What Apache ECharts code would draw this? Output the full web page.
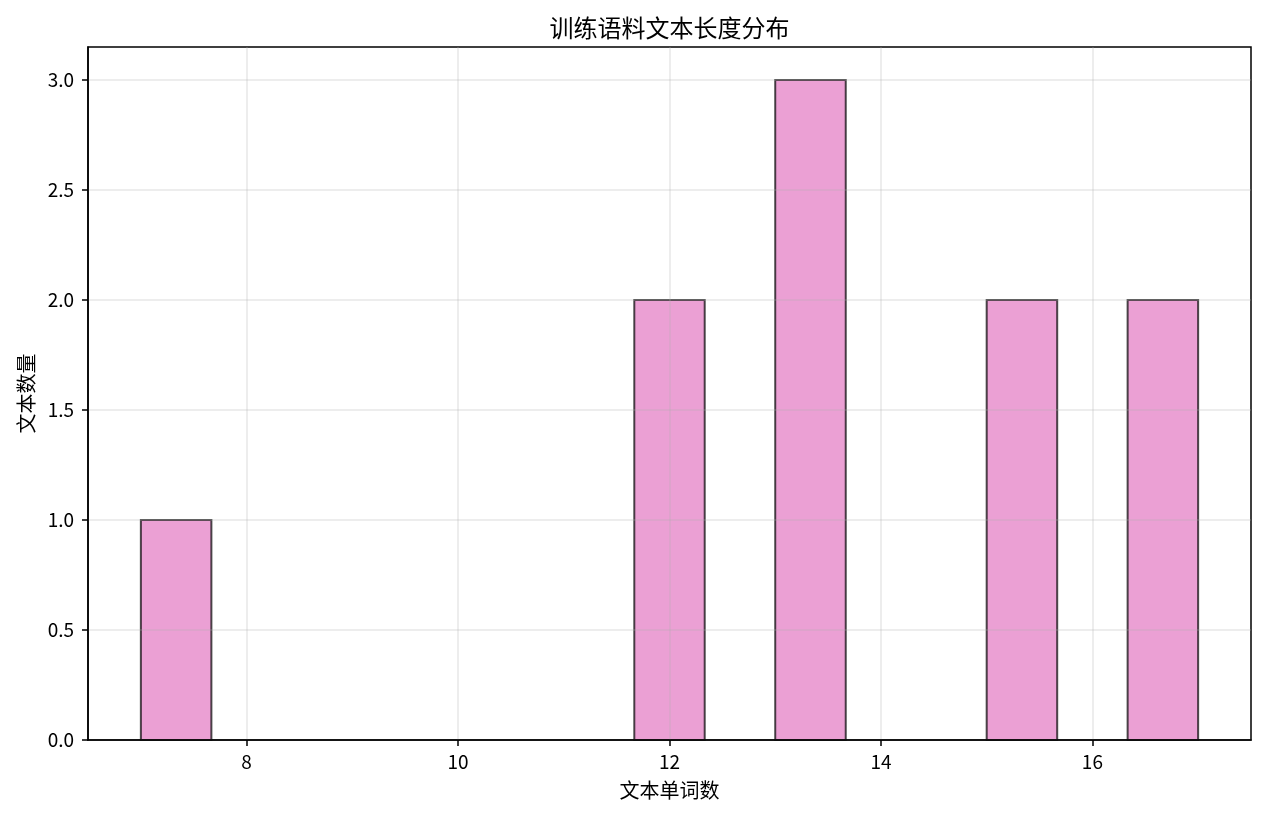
<!DOCTYPE html>
<html>
<head>
<meta charset="utf-8">
<script src="https://cdn.jsdelivr.net/npm/echarts@6/dist/echarts.min.js"></script>
<style>
html,body{margin:0;padding:0;background:#fff;}
#chart{width:1266px;height:816px;}
</style>
</head>
<body>
<div id="chart"></div>
<script>
// Histogram bins (text word counts), 15 bins between 7 and 17
const binEdges = [7, 7.667, 8.333, 9, 9.667, 10.333, 11, 11.667, 12.333, 13, 13.667, 14.333, 15, 15.667, 16.333, 17];
const binCounts = [1, 0, 0, 0, 0, 0, 0, 2, 0, 3, 0, 0, 2, 0, 2];
const xTickValues = [8, 10, 12, 14, 16];
const yTickValues = [0, 0.5, 1.0, 1.5, 2.0, 2.5, 3.0];
const titleText = '训练语料文本长度分布';
const xName = '文本单词数';
const yName = '文本数量';

const FONT = '"Noto Sans CJK SC", sans-serif';
const data = [];
for (let i = 0; i < binCounts.length; i++) {
  if (binCounts[i] > 0) data.push([binEdges[i], binEdges[i + 1], binCounts[i]]);
}

const GRID = { left: 88, right: 15, top: 47, bottom: 76 };
const chart = echarts.init(document.getElementById('chart'));
chart.setOption({
  animation: false,
  backgroundColor: '#fff',
  graphic: [{
    type: 'text',
    x: (GRID.left + (1266 - GRID.right)) / 2,
    y: 28,
    style: {
      text: titleText, fontFamily: FONT, fontSize: 24, fill: '#000',
      textAlign: 'center', textVerticalAlign: 'middle'
    }
  }],
  grid: {
    left: GRID.left, right: GRID.right, top: GRID.top, bottom: GRID.bottom,
    show: true, borderColor: '#000', borderWidth: 1.5, backgroundColor: 'transparent'
  },
  xAxis: {
    type: 'value',
    min: 6.5, max: 17.5,
    z: 3,
    name: xName,
    nameLocation: 'middle',
    nameGap: 40,
    nameTextStyle: { fontFamily: FONT, fontSize: 20, color: '#000' },
    axisLine: { show: true, lineStyle: { color: '#000', width: 1.5 } },
    axisTick: { show: true, length: 6, lineStyle: { color: '#000', width: 1.5 }, customValues: xTickValues },
    axisLabel: { customValues: xTickValues, fontFamily: FONT, fontSize: 19, color: '#000', margin: 12 },
    splitLine: { show: true, lineStyle: { color: 'rgba(176,176,176,0.3)', width: 1.5 } }
  },
  yAxis: {
    type: 'value',
    min: 0, max: 3.15, interval: 0.5,
    z: 3,
    name: yName,
    nameLocation: 'middle',
    nameGap: 50,
    nameRotate: 90,
    nameTextStyle: { fontFamily: FONT, fontSize: 20, color: '#000' },
    axisLine: { show: true, lineStyle: { color: '#000', width: 1.5 } },
    axisTick: { show: true, length: 6, lineStyle: { color: '#000', width: 1.5 }, customValues: yTickValues },
    axisLabel: {
      customValues: yTickValues,
      fontFamily: FONT, fontSize: 19, color: '#000', margin: 14,
      formatter: v => Number(v).toFixed(1)
    },
    splitLine: { show: true, lineStyle: { color: 'rgba(176,176,176,0.3)', width: 1.5 } }
  },
  series: [{
    type: 'custom',
    z: 1,
    data: data,
    encode: { x: [0, 1], y: 2 },
    renderItem: function (params, api) {
      const p0 = api.coord([api.value(0), api.value(2)]);
      const p1 = api.coord([api.value(1), 0]);
      return {
        type: 'rect',
        shape: { x: p0[0], y: p0[1], width: p1[0] - p0[0], height: p1[1] - p0[1] },
        style: { fill: 'rgba(227,119,194,0.7)', stroke: 'rgba(0,0,0,0.7)', lineWidth: 2 }
      };
    }
  }]
});
</script>
</body>
</html>
